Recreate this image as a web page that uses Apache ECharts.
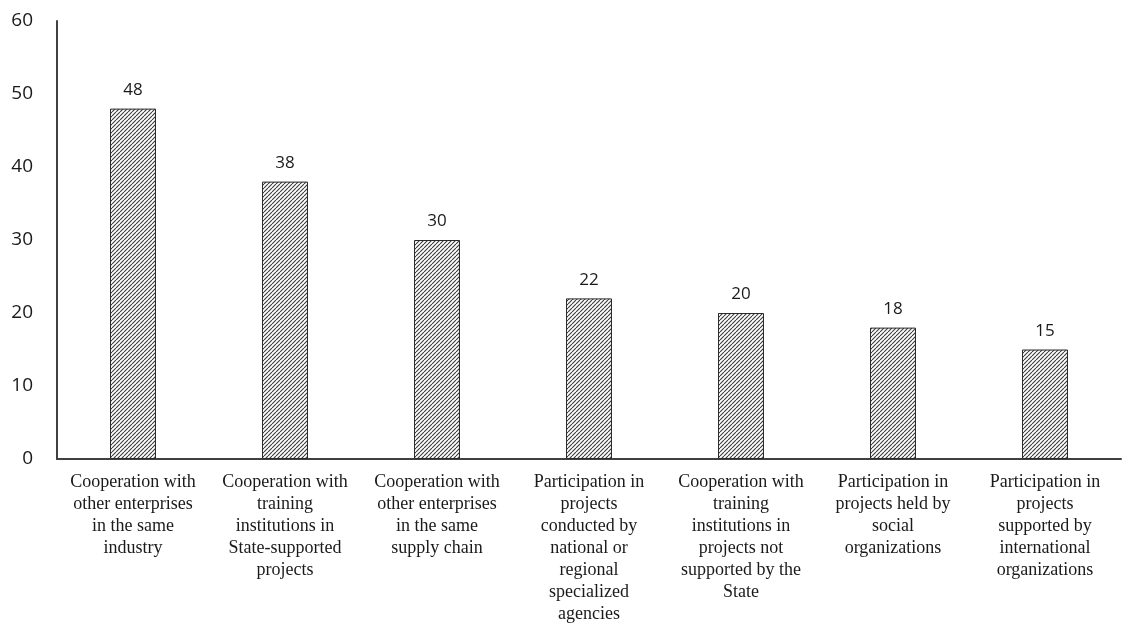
<!DOCTYPE html>
<html>
<head>
<meta charset="utf-8">
<script src="https://cdn.jsdelivr.net/npm/echarts@6/dist/echarts.min.js"></script>
<style>
  html, body { margin: 0; padding: 0; background: #ffffff; }
  #chart { width: 1140px; height: 625px; }
</style>
</head>
<body>
<div id="chart"></div>
<script>
// Forms of cooperation and their shares
const categories = [
  'Cooperation with\nother enterprises\nin the same\nindustry',
  'Cooperation with\ntraining\ninstitutions in\nState-supported\nprojects',
  'Cooperation with\nother enterprises\nin the same\nsupply chain',
  'Participation in\nprojects\nconducted by\nnational or\nregional\nspecialized\nagencies',
  'Cooperation with\ntraining\ninstitutions in\nprojects not\nsupported by the\nState',
  'Participation in\nprojects held by\nsocial\norganizations',
  'Participation in\nprojects\nsupported by\ninternational\norganizations'
];
const values = [48, 38, 30, 22, 20, 18, 15];
const yTicks = [0, 10, 20, 30, 40, 50, 60];

// Dense diagonal hatch fill for the bars
function hatchPattern() {
  const s = 4;
  const c = document.createElement('canvas');
  c.width = s; c.height = s;
  const g = c.getContext('2d');
  g.fillStyle = '#ffffff';
  g.fillRect(0, 0, s, s);
  g.strokeStyle = '#3a3a3a';
  g.lineWidth = 1.1;
  g.beginPath();
  for (let k = -s; k <= 2 * s; k += s) {
    g.moveTo(k, s);
    g.lineTo(k + s, 0);
  }
  g.stroke();
  return c;
}

const chart = echarts.init(document.getElementById('chart'), null, { renderer: 'canvas' });
chart.setOption({
  animation: false,
  backgroundColor: '#ffffff',
  grid: { left: 57, right: 19, top: 21, bottom: 164, containLabel: false },
  xAxis: {
    type: 'category',
    data: categories,
    axisLine: { show: true, lineStyle: { color: '#404040', width: 2 } },
    axisTick: { show: false },
    axisLabel: {
      interval: 0,
      margin: 12,
      fontFamily: 'Liberation Serif',
      fontSize: 18,
      lineHeight: 22,
      color: '#1a1a1a',
      align: 'center'
    }
  },
  yAxis: {
    type: 'value',
    min: yTicks[0],
    max: yTicks[yTicks.length - 1],
    interval: 10,
    axisLine: { show: true, lineStyle: { color: '#404040', width: 2 } },
    axisTick: { show: false },
    splitLine: { show: false },
    axisLabel: {
      margin: 24,
      fontFamily: 'Open Sans',
      fontSize: 19,
      color: '#1a1a1a'
    }
  },
  series: [{
    type: 'bar',
    data: values,
    barWidth: 46,
    itemStyle: {
      color: { image: hatchPattern(), repeat: 'repeat' },
      borderColor: '#2a2a2a',
      borderWidth: 1
    },
    label: {
      show: true,
      position: 'top',
      distance: 10,
      fontFamily: 'Open Sans',
      fontSize: 17,
      color: '#1a1a1a'
    }
  }]
});
</script>
</body>
</html>
